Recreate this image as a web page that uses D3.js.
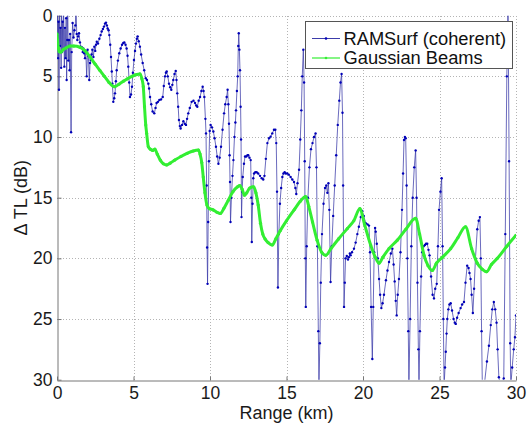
<!DOCTYPE html>
<html><head><meta charset="utf-8">
<script src="https://cdn.jsdelivr.net/npm/d3@7"></script>
<style>
html,body{margin:0;padding:0;background:#fff;}
svg{display:block;font-family:"Liberation Sans",Arial,sans-serif;}
</style></head><body>
<svg id="c" width="528" height="423"></svg>
<script>
const xTicks = [0,5,10,15,20,25,30];
const yTicks = [0,5,10,15,20,25,30];
const seriesNames = ["RAMSurf (coherent)","Gaussian Beams"];
const xLabel = "Range (km)";
const yLabel = "\u0394 TL (dB)";

// RAMSurf (coherent): [range km, delta TL dB]
const ramsurf = [
[0.00,1.5],[0.03,-1],[0.07,3.5],[0.10,0.5],[0.13,6.1],[0.17,-1],[0.20,2.5],[0.23,1.0],[0.27,4.3],[0.30,-1],
[0.33,3.0],[0.37,0.5],[0.40,2.8],[0.43,-1],[0.48,4.2],[0.52,1.0],[0.56,3.5],[0.60,0.2],[0.63,5.3],[0.67,2.0],
[0.70,-1],[0.74,3.7],[0.78,2.0],[0.82,4.5],[0.86,1.5],[0.92,9.6],[0.96,3.0],[1.02,0.6],[1.08,1.8],[1.14,1.2],
[1.20,0.8],[1.24,-1],[1.29,1.5],[1.33,2.0],[1.38,1.7],[1.44,1.45],[1.50,2.2],[1.55,2.55],[1.62,2.6],[1.68,3.0],
[1.72,2.7],[1.78,3.1],[1.83,3.5],[1.88,2.9],[1.94,5.0],[2.00,2.8],[2.05,3.3],[2.11,5.3],[2.16,3.9],[2.20,3.65],
[2.26,3.2],[2.31,2.8],[2.38,3.4],[2.44,2.55],[2.50,2.9],[2.55,2.4],[2.60,2.15],[2.68,2.3],[2.77,1.9],[2.85,1.6],
[2.92,1.3],[3.00,1.1],[3.07,0.9],[3.14,0.65],[3.20,0.57],[3.26,0.8],[3.31,1.05],[3.37,1.2],[3.42,1.6],[3.48,2.4],
[3.53,3.4],[3.58,4.6],[3.62,5.6],[3.68,7.1],[3.74,6.8],[3.79,6.4],[3.85,5.4],[3.90,4.5],[3.98,3.7],[4.07,3.1],
[4.16,2.7],[4.25,2.4],[4.33,2.25],[4.40,2.2],[4.48,2.4],[4.55,2.7],[4.61,3.3],[4.66,4.2],[4.72,5.5],[4.77,6.7],
[4.84,6.5],[4.90,5.85],[4.96,4.7],[5.03,3.65],[5.10,2.9],[5.16,2.3],[5.22,1.9],[5.27,1.7],[5.34,2.1],[5.42,2.55],
[5.50,3.2],[5.60,3.9],[5.70,4.5],[5.80,5.15],[5.88,5.3],[5.97,5.6],[6.02,6.0],[6.08,6.7],[6.16,7.3],[6.25,7.9],
[6.36,8.05],[6.44,7.6],[6.51,7.2],[6.60,7.1],[6.69,6.95],[6.80,6.9],[6.91,6.7],[6.98,5.8],[7.06,5.0],[7.12,4.7],
[7.17,4.6],[7.24,5.0],[7.32,5.6],[7.40,5.9],[7.47,6.1],[7.54,5.7],[7.60,5.3],[7.68,4.8],[7.76,4.55],[7.81,5.3],
[7.86,6.4],[7.92,7.5],[7.97,8.6],[8.03,9.1],[8.08,9.3],[8.17,9.0],[8.26,8.7],[8.35,8.9],[8.43,9.0],[8.50,8.5],
[8.58,8.05],[8.68,7.6],[8.80,7.1],[8.92,7.0],[9.02,7.2],[9.10,7.4],[9.17,7.5],[9.26,7.0],[9.35,6.7],[9.44,6.2],
[9.52,5.85],[9.58,6.2],[9.63,6.7],[9.70,8.5],[9.74,9.7],[9.78,14.0],[9.81,19.1],[9.84,22.1],[9.88,17.0],[9.93,12.0],
[9.98,9.5],[10.04,9.0],[10.13,9.2],[10.22,9.55],[10.30,10.1],[10.39,10.8],[10.47,11.6],[10.55,12.2],[10.63,11.7],[10.72,10.8],
[10.82,9.4],[10.92,8.05],[11.00,7.3],[11.09,6.7],[11.15,6.1],[11.20,7.3],[11.24,8.9],[11.28,11.5],[11.31,13.7],[11.34,17.0],
[11.40,15.0],[11.47,13.2],[11.53,11.9],[11.60,10.0],[11.66,8.8],[11.70,7.8],[11.76,6.2],[11.81,5.0],[11.85,2.5],[11.88,1.45],
[11.92,2.8],[11.96,4.5],[12.00,7.5],[12.03,10.2],[12.06,16.6],[12.10,14.5],[12.14,13.3],[12.22,12.2],[12.29,11.6],[12.37,11.6],
[12.45,11.5],[12.50,11.5],[12.58,11.7],[12.66,11.9],[12.70,15.0],[12.73,18.65],[12.78,15.5],[12.83,13.4],[12.88,13.0],[12.96,12.9],
[13.05,12.9],[13.15,13.0],[13.27,13.2],[13.38,13.4],[13.48,13.5],[13.56,13.2],[13.65,11.8],[13.75,10.5],[13.86,10.1],[13.96,9.97],
[14.07,9.7],[14.18,9.4],[14.27,9.4],[14.33,10.5],[14.38,14.5],[14.44,22.4],[14.50,18.0],[14.57,15.5],[14.65,14.2],[14.73,13.3],
[14.80,13.0],[14.88,12.9],[14.95,13.0],[15.05,13.0],[15.15,13.1],[15.27,13.3],[15.38,13.5],[15.49,13.7],[15.58,14.2],[15.64,14.7],
[15.72,13.8],[15.82,12.7],[15.90,10.2],[15.97,7.8],[16.03,5.0],[16.10,2.8],[16.15,5.5],[16.19,12.0],[16.23,20.0],[16.26,24.0],
[16.32,19.0],[16.40,15.0],[16.50,12.5],[16.60,11.0],[16.70,10.5],[16.80,10.0],[16.90,9.7],[16.96,12.5],[17.02,19.0],[17.08,26.0],
[17.12,30.5],[17.18,27.0],[17.24,22.0],[17.32,18.0],[17.42,15.5],[17.52,14.2],[17.60,14.0],[17.67,14.6],[17.74,13.8],[17.80,16.0],
[17.88,21.95],[17.96,19.0],[18.05,16.5],[18.15,14.0],[18.25,11.5],[18.35,9.0],[18.45,7.0],[18.53,5.5],[18.60,4.8],[18.66,8.0],
[18.70,14.0],[18.76,24.0],[18.81,22.0],[18.86,20.0],[18.94,19.8],[19.02,20.1],[19.08,19.9],[19.14,19.6],[19.19,19.75],[19.28,19.5],
[19.41,19.2],[19.52,18.7],[19.63,18.0],[19.73,17.4],[19.85,16.6],[19.95,16.1],[20.05,16.5],[20.18,17.1],[20.30,17.2],[20.39,17.3],
[20.46,19.5],[20.53,24.0],[20.61,28.3],[20.67,24.0],[20.73,19.5],[20.79,17.5],[20.83,17.8],[20.90,18.8],[20.97,20.0],[21.05,21.7],
[21.12,23.0],[21.20,24.1],[21.28,23.7],[21.37,23.0],[21.50,21.8],[21.60,21.0],[21.70,20.3],[21.82,19.6],[21.92,19.2],[22.00,20.5],
[22.07,21.9],[22.14,23.5],[22.20,24.7],[22.27,23.0],[22.35,21.7],[22.45,19.5],[22.55,16.0],[22.62,13.0],[22.68,10.25],[22.74,10.0],
[22.79,10.1],[22.85,14.0],[22.90,20.0],[22.96,26.0],[23.00,30.5],[23.08,25.0],[23.16,19.0],[23.25,15.0],[23.35,12.5],[23.44,11.1],
[23.50,15.0],[23.56,22.0],[23.62,27.5],[23.66,30.5],[23.72,26.0],[23.80,21.5],[23.87,19.5],[23.96,19.0],[24.05,18.9],[24.12,18.8],
[24.20,18.8],[24.28,19.3],[24.35,19.75],[24.45,21.5],[24.55,23.0],[24.64,23.3],[24.72,22.5],[24.82,22.1],[24.90,19.0],[24.97,16.0],
[25.06,14.5],[25.14,13.4],[25.20,19.0],[25.25,25.0],[25.30,30.5],[25.36,29.0],[25.41,27.7],[25.46,26.2],[25.51,25.0],[25.58,24.2],
[25.65,23.8],[25.73,23.7],[25.82,24.3],[25.92,25.0],[26.00,25.3],[26.06,25.4],[26.15,24.9],[26.25,24.5],[26.38,24.1],[26.48,23.8],
[26.60,23.6],[26.70,22.0],[26.81,20.6],[26.90,20.8],[26.96,21.2],[27.03,21.7],[27.10,23.0],[27.18,24.5],[27.26,22.5],[27.35,20.0],
[27.47,17.6],[27.56,16.9],[27.64,16.6],[27.70,20.0],[27.75,26.0],[27.80,30.5],[27.95,30.2],[28.10,28.5],[28.23,27.2],[28.35,25.5],
[28.45,24.2],[28.55,23.6],[28.64,24.2],[28.73,25.3],[28.80,27.5],[28.88,29.8],[28.98,30.5],[29.05,30.3],[29.20,29.9],[29.30,18.0],
[29.40,5.0],[29.48,-1],[29.55,12.0],[29.62,27.0],[29.66,30.5],[29.75,29.0],[29.85,27.5],[29.93,26.5],[30.00,24.7]
];

// Gaussian Beams: [range km, delta TL dB]
const gaussian = [
[0.00,1.5],[0.08,2.6],[0.15,2.97],[0.25,3.0],[0.40,2.8],[0.60,2.65],[0.85,2.5],[1.10,2.5],[1.50,2.6],[1.80,2.85],
[2.16,3.4],[2.50,4.0],[2.80,4.5],[3.10,5.0],[3.40,5.5],[3.75,5.85],[4.05,5.65],[4.34,5.4],[4.60,5.2],[4.90,5.0],
[5.20,4.85],[5.42,4.8],[5.55,5.2],[5.64,5.85],[5.72,7.5],[5.80,9.0],[5.86,9.7],[5.97,10.8],[6.10,11.0],[6.25,11.1],
[6.40,11.0],[6.55,11.4],[6.75,11.9],[6.95,12.2],[7.17,12.3],[7.40,12.15],[7.70,11.9],[8.10,11.6],[8.50,11.35],[8.90,11.15],
[9.24,11.07],[9.35,11.4],[9.46,12.1],[9.56,13.3],[9.67,14.6],[9.80,15.6],[9.95,15.9],[10.20,16.0],[10.45,16.2],[10.68,16.3],
[10.90,15.9],[11.20,15.2],[11.50,14.5],[11.80,14.1],[11.95,14.0],[12.10,14.3],[12.25,14.8],[12.40,14.6],[12.60,14.2],[12.85,14.1],
[13.00,14.6],[13.15,15.6],[13.30,17.1],[13.45,18.0],[13.60,18.4],[13.80,18.7],[14.07,18.9],[14.30,18.4],[14.60,17.7],[15.00,16.9],
[15.50,16.0],[15.90,15.3],[16.25,14.9],[16.45,15.7],[16.70,17.0],[17.00,18.5],[17.30,19.5],[17.56,19.75],[17.90,19.2],[18.40,18.4],
[18.97,17.55],[19.40,16.9],[19.80,15.9],[20.10,17.2],[20.50,18.9],[20.80,19.9],[21.05,20.4],[21.30,19.9],[21.70,19.2],[22.24,18.5],
[22.80,17.6],[23.44,16.7],[23.70,18.0],[23.99,19.75],[24.25,20.6],[24.53,21.0],[24.80,20.4],[25.20,19.9],[25.73,19.2],[26.20,18.3],
[26.70,17.4],[27.10,19.2],[27.47,20.4],[27.80,20.9],[28.08,21.1],[28.40,20.5],[28.78,20.0],[29.40,19.0],[30.00,18.1]
];

const svg = d3.select("#c");
const x = d3.scaleLinear().domain([0,30]).range([57,516]);
const y = d3.scaleLinear().domain([0,30]).range([15.7,379.7]);
const blueLine = "#3c3caa", blueDot = "#0000b8", green = "#33ee33";

svg.append("defs").append("clipPath").attr("id","clip")
  .append("rect").attr("x",x(0)).attr("y",y(0)).attr("width",x(30)-x(0)).attr("height",y(30)-y(0));

// grid
const grid = svg.append("g").attr("stroke","#b4b4b4").attr("stroke-width",1).attr("stroke-dasharray","1,2").attr("shape-rendering","crispEdges");
grid.selectAll(".gx").data(xTicks.filter(t=>t>0)).enter().append("line")
  .attr("x1",d=>Math.round(x(d))+0.5).attr("x2",d=>Math.round(x(d))+0.5).attr("y1",y(0)).attr("y2",y(30));
grid.selectAll(".gy").data(yTicks.filter(t=>t<30)).enter().append("line")
  .attr("y1",d=>Math.round(y(d))+0.5).attr("y2",d=>Math.round(y(d))+0.5).attr("x1",x(0)).attr("x2",x(30));

// axes
const axCol = "#777";
const gx = svg.append("g").attr("transform",`translate(0,${Math.round(y(30))+0.5})`)
  .call(d3.axisBottom(x).tickValues(xTicks).tickSize(-4).tickPadding(6).tickSizeOuter(0));
const gy = svg.append("g").attr("transform",`translate(${Math.round(x(0))+0.5},0)`)
  .call(d3.axisLeft(y).tickValues(yTicks).tickSize(-4).tickPadding(5).tickSizeOuter(0));
[gx,gy].forEach(g=>{
  g.select(".domain").attr("stroke",axCol);
  g.selectAll(".tick line").attr("stroke",axCol);
  g.selectAll("text").attr("font-size",17.5).attr("fill","#1a1a1a").attr("font-family","'Liberation Sans',Arial,sans-serif");
});

// data
const plot = svg.append("g").attr("clip-path","url(#clip)");
const lineGen = d3.line().x(d=>x(d[0])).y(d=>y(d[1]));
plot.append("path").datum(ramsurf).attr("d",lineGen).attr("fill","none")
  .attr("stroke",blueLine).attr("stroke-width",0.9).attr("stroke-opacity",0.85);
plot.selectAll(".bd").data(ramsurf).enter().append("circle")
  .attr("cx",d=>x(d[0])).attr("cy",d=>y(d[1])).attr("r",1.2).attr("fill",blueDot);

const gLine = d3.line().x(d=>x(d[0])).y(d=>y(d[1])).curve(d3.curveMonotoneX);
plot.append("path").datum(gaussian).attr("d",gLine).attr("fill","none")
  .attr("stroke",green).attr("stroke-width",3).attr("stroke-linejoin","round");
plot.selectAll(".gd").data(gaussian).enter().append("circle")
  .attr("cx",d=>x(d[0])).attr("cy",d=>y(d[1])).attr("r",1.6).attr("fill",green);

// axis labels
svg.append("text").attr("x",(x(0)+x(30))/2).attr("y",419).attr("text-anchor","middle")
  .attr("font-size",18).attr("fill","#1a1a1a").text(xLabel);
svg.append("text").attr("transform",`translate(27,${(y(0)+y(30))/2}) rotate(-90)`).attr("text-anchor","middle")
  .attr("font-size",18).attr("fill","#1a1a1a").text(yLabel);

// legend
const lg = svg.append("g");
lg.append("rect").attr("x",305.5).attr("y",21.5).attr("width",207).attr("height",47)
  .attr("fill","#fff").attr("stroke","#555").attr("stroke-width",1);
const legItems = [
  {name:seriesNames[0], line:blueLine, dot:blueDot, w:1, y:38.5},
  {name:seriesNames[1], line:green, dot:green, w:1.2, y:58}
];
legItems.forEach(it=>{
  lg.append("line").attr("x1",312).attr("x2",340).attr("y1",it.y).attr("y2",it.y)
    .attr("stroke",it.line).attr("stroke-width",it.w);
  lg.append("circle").attr("cx",326).attr("cy",it.y).attr("r",1.3).attr("fill",it.dot);
  lg.append("text").attr("x",343.5).attr("y",it.y+6).attr("font-size",18.3).attr("fill","#111").text(it.name);
});
</script></body></html>
